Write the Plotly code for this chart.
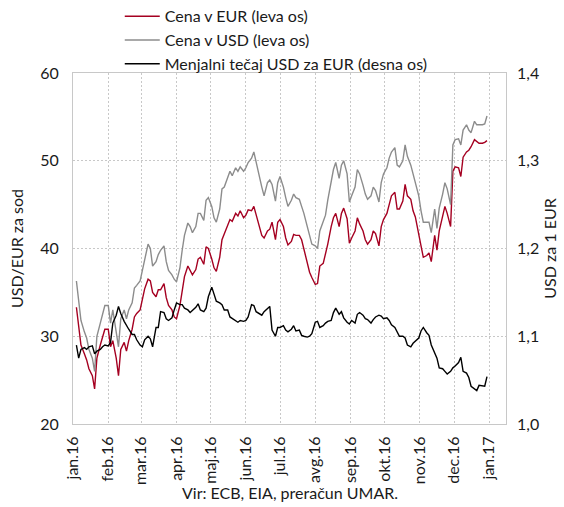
import pandas as pd
import plotly.graph_objects as go

# --- data: Monday/Wednesday/Friday readings, one row per week (Jan 4 2016 .. Dec 30 2016)
week_mondays = pd.date_range("2016-01-04", periods=52, freq="7D")
day_offsets = [0, 2, 4]
dates = [m + pd.Timedelta(days=o) for m in week_mondays for o in day_offsets]

price_usd = [
    36.3, 33.8, 31.8, 30.5, 29.8, 28.5, 27.5, 26.0, 30.0, 31.5, 32.5, 33.5,
    33.5, 31.5, 33.0, 30.5, 28.8, 32.0, 33.0, 32.0, 33.0, 33.8, 35.5, 35.8,
    36.3, 37.5, 38.8, 40.5, 40.0, 38.0, 38.5, 39.3, 39.8, 40.3, 38.5, 37.5,
    37.0, 36.5, 36.2, 37.8, 39.8, 41.5, 42.9, 42.5, 41.8, 42.5, 44.0, 44.0,
    43.2, 45.5, 45.8, 44.8, 43.5, 43.0, 44.5, 46.8, 47.0, 48.0, 48.8, 48.3,
    49.2, 48.8, 49.3, 48.8, 49.2, 49.8, 50.3, 51.0, 49.8, 48.0, 47.0, 46.0,
    47.5, 47.8, 47.3, 45.4, 47.5, 48.2, 47.0, 45.8, 44.8, 45.5, 46.2, 45.8,
    45.6, 44.8, 44.0, 42.5, 41.5, 40.5, 40.3, 40.0, 42.0, 43.0, 43.8, 45.5,
    47.5, 49.0, 49.8, 48.0, 49.5, 50.0, 48.5, 45.3, 46.0, 47.0, 49.0, 48.5,
    47.2, 46.2, 45.6, 46.0, 47.0, 46.6, 45.3, 47.5, 48.5, 49.2, 50.3, 51.0,
    51.5, 49.5, 49.3, 50.0, 51.8, 50.5, 49.5, 48.5, 47.8, 46.0, 44.3, 43.0,
    43.0, 43.0, 41.8, 44.5, 42.3, 44.6, 46.2, 47.5, 46.8, 45.0, 51.8, 52.4,
    52.5, 51.8, 53.5, 54.1, 53.5, 53.2, 54.5, 54.1, 54.1, 54.1, 54.2, 55.1,
]

price_eur = [
    33.3, 31.0, 29.0, 28.0, 27.3, 26.3, 25.5, 24.0, 27.5, 29.0, 30.0, 30.8,
    30.8, 28.8, 29.5, 27.5, 25.5, 28.5, 29.3, 28.3, 29.5, 30.8, 32.2, 32.6,
    33.0, 34.4, 35.4, 36.5, 36.3, 35.0, 34.5, 35.3, 35.3, 36.0, 34.4, 33.5,
    33.0, 32.2, 32.0, 33.5, 35.0, 36.8, 38.0, 37.5, 37.0, 37.6, 38.8, 39.0,
    38.2, 40.2, 40.0, 38.8, 37.8, 37.4, 39.0, 41.0, 41.6, 42.5, 43.3, 43.1,
    44.0, 43.7, 44.3, 43.5, 43.8, 44.4, 44.3, 44.8, 43.8, 42.5, 41.5, 41.2,
    42.0, 42.2, 43.0, 41.0, 43.0, 43.3, 42.5, 41.2, 40.4, 40.8, 41.6, 41.5,
    41.5, 41.0, 40.0, 38.5, 37.3, 36.7, 35.9, 36.0, 38.0, 38.3, 39.3, 40.5,
    42.5, 43.5, 44.0, 42.5, 44.0, 44.6, 43.4, 40.6, 41.2, 42.0, 43.5, 42.8,
    42.0, 41.0, 40.5, 41.0, 42.0, 41.7, 40.3, 42.5, 43.3, 44.0, 45.0, 46.0,
    46.4, 44.5, 44.5, 45.4, 47.3, 46.0, 45.6, 44.3, 43.6, 41.8, 40.3, 39.0,
    39.2, 39.5, 38.5, 41.5, 39.8, 42.0, 43.7, 44.8, 44.0, 42.5, 48.8, 49.3,
    49.2, 48.2, 50.4, 51.0, 51.2, 51.6, 52.4, 52.2, 52.0, 52.0, 52.1, 52.3,
]

usd_per_eur = [
    1.090, 1.075, 1.085, 1.087, 1.085, 1.088, 1.089, 1.080, 1.083, 1.085, 1.088, 1.090,
    1.089, 1.093, 1.115, 1.124, 1.134, 1.126, 1.117, 1.112, 1.108, 1.102, 1.102, 1.096,
    1.090, 1.088, 1.096, 1.100, 1.097, 1.088, 1.110, 1.110, 1.128, 1.127, 1.120, 1.118,
    1.121, 1.130, 1.138, 1.136, 1.136, 1.132, 1.130, 1.127, 1.129, 1.133, 1.137, 1.130,
    1.128, 1.132, 1.145, 1.156, 1.148, 1.140, 1.138, 1.136, 1.130, 1.130, 1.122, 1.120,
    1.117, 1.116, 1.118, 1.117, 1.118, 1.122, 1.136, 1.135, 1.128, 1.125, 1.124, 1.128,
    1.132, 1.134, 1.107, 1.100, 1.110, 1.110, 1.112, 1.107, 1.105, 1.108, 1.112, 1.106,
    1.107, 1.101, 1.100, 1.099, 1.100, 1.103, 1.116, 1.117, 1.110, 1.112, 1.115, 1.117,
    1.118, 1.127, 1.132, 1.125, 1.128, 1.121, 1.116, 1.114, 1.118, 1.115, 1.125, 1.127,
    1.124, 1.120, 1.119, 1.115, 1.119, 1.122, 1.124, 1.123, 1.120, 1.121, 1.118, 1.113,
    1.110, 1.104, 1.100, 1.100, 1.098, 1.090, 1.088, 1.092, 1.094, 1.098, 1.106, 1.110,
    1.104, 1.101, 1.090, 1.080, 1.075, 1.064, 1.063, 1.060, 1.057, 1.060, 1.064, 1.066,
    1.070, 1.076, 1.060, 1.058, 1.053, 1.043, 1.040, 1.038, 1.044, 1.043, 1.043, 1.054,
]

month_ticks = pd.date_range("2016-01-01", "2017-01-01", freq="MS")
month_labels = ["jan.16", "feb.16", "mar.16", "apr.16", "maj.16", "jun.16", "jul.16",
                "avg.16", "sep.16", "okt.16", "nov.16", "dec.16", "jan.17"]

left_ticks = [20, 30, 40, 50, 60]
right_ticks = [1.0, 1.1, 1.2, 1.3, 1.4]
right_labels = ["1,0", "1,1", "1,2", "1,3", "1,4"]

FONT = "Lato"
FS = 16
RED = "#a50021"
GRAY = "#8c8c8c"
GRID = "#c8c8c8"

fig = go.Figure()
fig.add_trace(go.Scatter(x=dates, y=price_eur, mode="lines", name="Cena v EUR (leva os)",
                         line=dict(color=RED, width=1.4)))
fig.add_trace(go.Scatter(x=dates, y=price_usd, mode="lines", name="Cena v USD (leva os)",
                         line=dict(color=GRAY, width=1.4)))
fig.add_trace(go.Scatter(x=dates, y=usd_per_eur, mode="lines",
                         name="Menjalni tečaj USD za EUR (desna os)",
                         line=dict(color="black", width=1.4), yaxis="y2"))

fig.update_layout(
    width=564, height=507,
    margin=dict(l=73, r=58, t=73, b=83, autoexpand=False),
    paper_bgcolor="white", plot_bgcolor="white",
    font=dict(family=FONT, size=FS, color="#1a1a1a"),
    showlegend=True,
    legend=dict(x=0.108, y=1.21, xanchor="left", yanchor="top",
                bgcolor="rgba(0,0,0,0)", font=dict(size=FS, family=FONT),
                itemwidth=35),
    xaxis=dict(
        type="date", automargin=False,
        range=["2016-01-01", "2017-01-15 17:00"],
        tickmode="array", tickvals=month_ticks, ticktext=month_labels,
        tickangle=-90, showgrid=True, gridcolor=GRID, griddash="2px,2px", gridwidth=1,
        showline=True, linecolor=GRID, linewidth=1, mirror=True,
        ticks="", ticklabelstandoff=5,
        tickfont=dict(size=FS, family=FONT),
    ),
    yaxis=dict(
        automargin=False,
        range=[20, 60], tickvals=left_ticks, showgrid=True, gridcolor=GRID,
        griddash="2px,2px", gridwidth=1, zeroline=False,
        showline=True, linecolor=GRID, linewidth=1, mirror=True,
        ticks="", ticklabelstandoff=10,
        title=dict(text="USD/EUR za sod", font=dict(size=FS, family=FONT), standoff=12),
    ),
    yaxis2=dict(
        automargin=False,
        range=[1.0, 1.4], overlaying="y", side="right",
        tickvals=right_ticks, ticktext=right_labels, showgrid=False, zeroline=False,
        ticks="", ticklabelstandoff=10,
        title=dict(text="USD za 1 EUR", font=dict(size=FS, family=FONT), standoff=6),
    ),
    annotations=[dict(text="Vir: ECB, EIA, preračun UMAR.", xref="paper", yref="paper",
                      x=0.5, y=-0.195, xanchor="center", yanchor="middle",
                      showarrow=False, font=dict(size=FS, family=FONT))],
)

fig.write_html(
    "out.html",
    config={"displayModeBar": False},
    post_script="document.body.style.margin='0';document.body.style.padding='0';",
)
